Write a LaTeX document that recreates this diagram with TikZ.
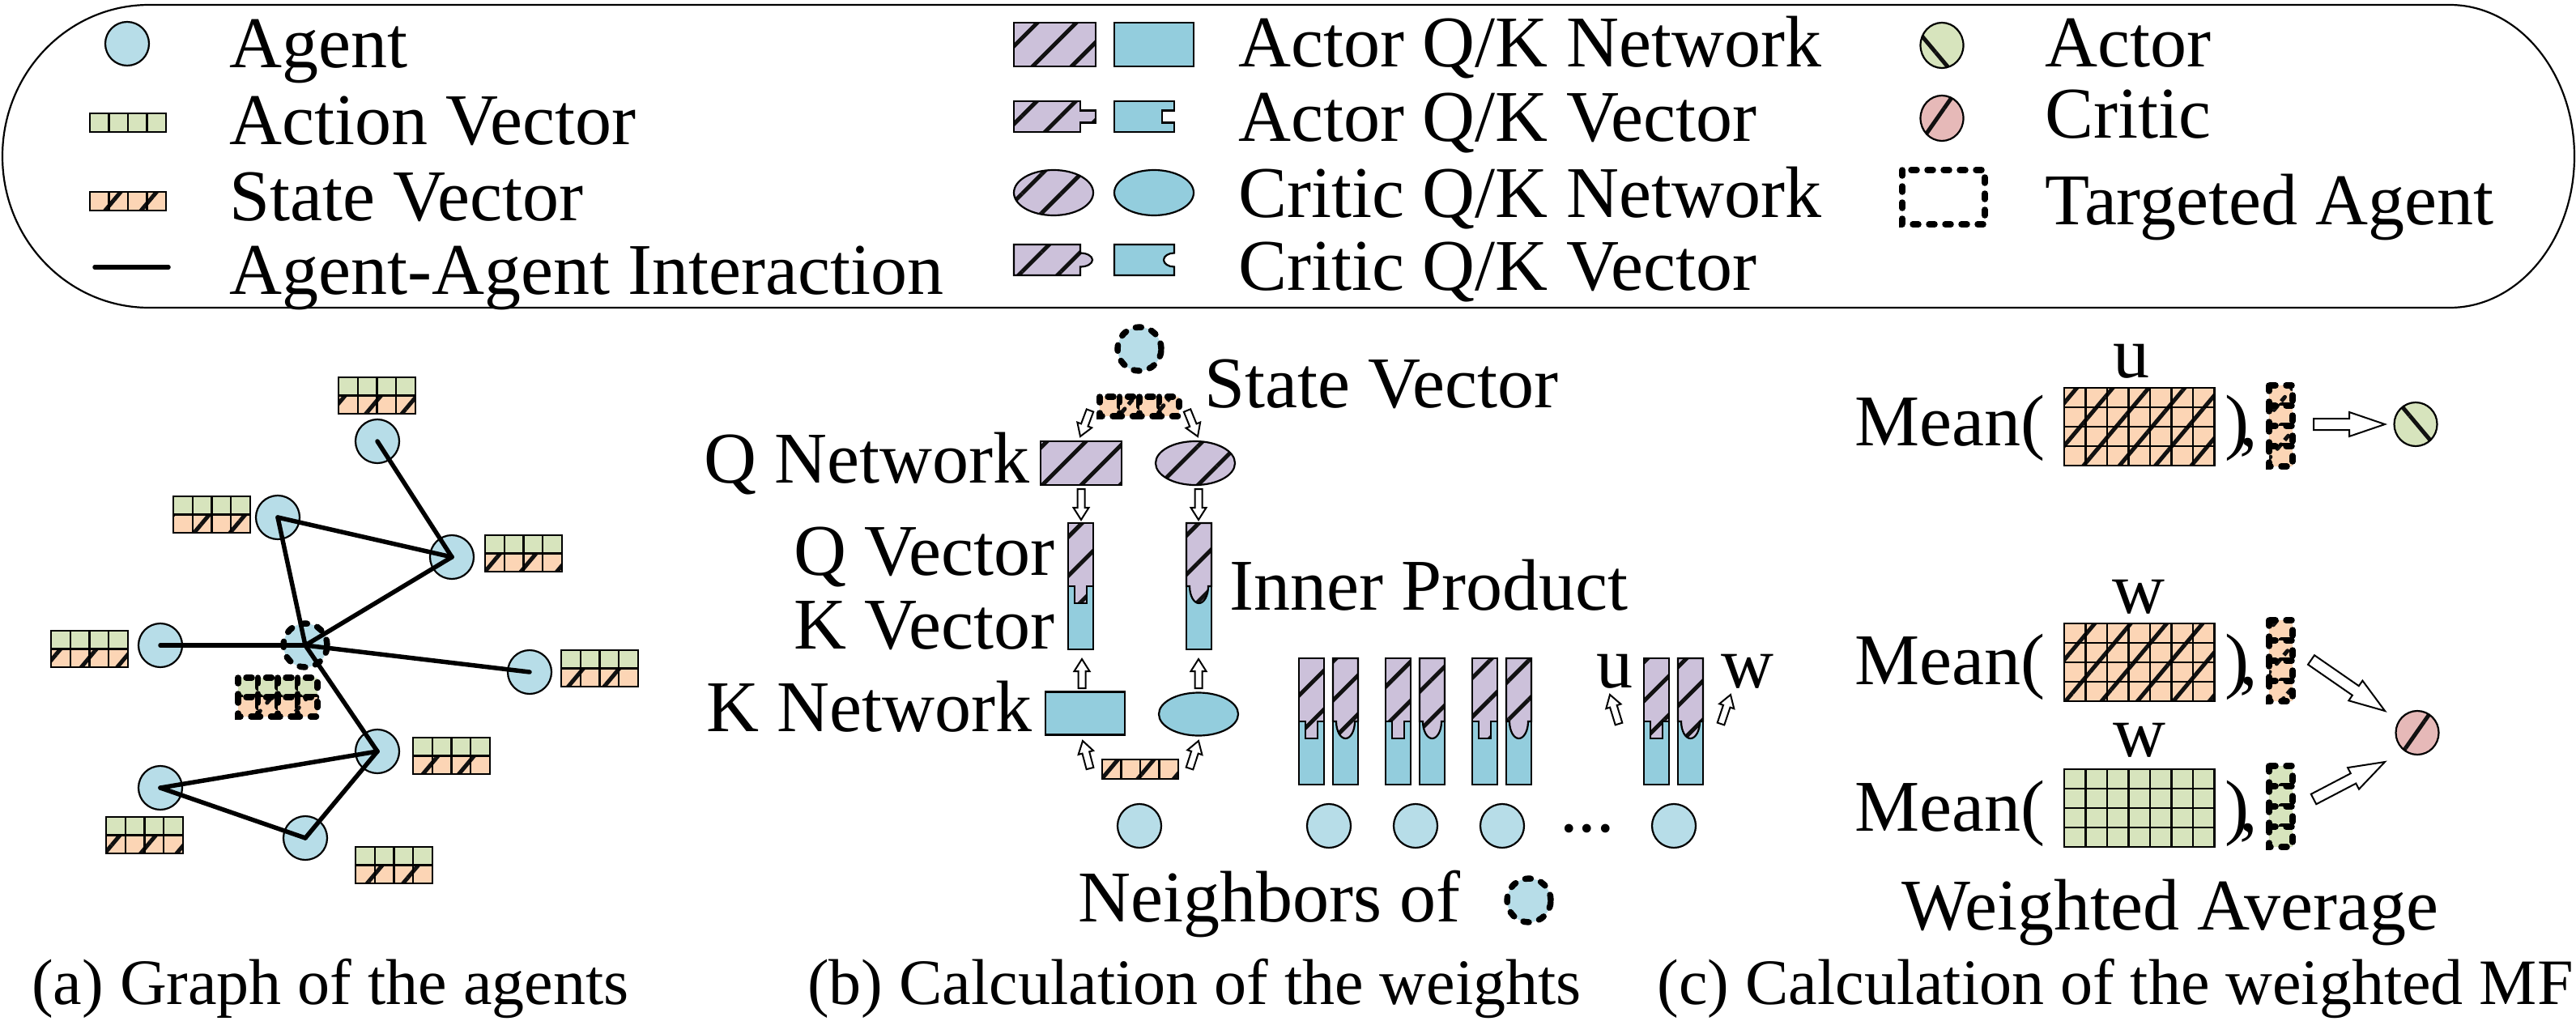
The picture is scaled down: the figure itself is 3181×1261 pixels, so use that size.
\documentclass[tikz,border=0pt]{standalone}
\usepackage{fontspec}
\setmainfont{Liberation Serif}
\usetikzlibrary{calc,patterns.meta,shapes.geometric}
\definecolor{agentc}{HTML}{B7DDE8}
\definecolor{netc}{HTML}{93CDDD}
\definecolor{lilac}{HTML}{CCC1DA}
\definecolor{acc}{HTML}{D7E4BD}
\definecolor{stc}{HTML}{FCD5B5}
\definecolor{crc}{HTML}{E6B9B8}
\definecolor{hatc}{HTML}{111111}
\newcommand{\mfont}{\fontsize{90}{108}\selectfont}
\newcommand{\cfont}{\fontsize{80}{96}\selectfont}
\tikzset{
  ol/.style={draw=black, line width=2.2pt},
  lilsh/.style={ol, preaction={fill=lilac}, pattern={Lines[angle=45,distance=34pt,line width=5pt]}, pattern color=hatc},
  netsh/.style={ol, fill=netc},
  agent/.style={circle, ol, fill=agentc, minimum size=54pt, inner sep=0pt},
  tdash/.style={line width=7.5pt, dash pattern=on 7pt off 13pt, line cap=round},
  stcell/.style={ol, preaction={fill=stc}, pattern={Lines[angle=50,distance=34pt,line width=5pt]}, pattern color=hatc},
  accell/.style={ol, fill=acc},
  stcelld/.style={stcell, tdash},
  accelld/.style={accell, tdash},
  link/.style={line width=5.5pt, line cap=round},
  harrowst/.style={draw=black, fill=white, line width=2pt, line join=miter},
  txt/.style={inner sep=0pt, font=\mfont},
  ctxt/.style={inner sep=0pt, font=\cfont},
}
% grid of cells: x, y, cols, rows, w, h, style
\newcommand{\cellgrid}[7]{%
  \foreach \r in {1,...,#4}{\foreach \c in {1,...,#3}{%
    \path[#7] ({#1+(\c-1)*#5},{#2+(\r-1)*#6}) rectangle ++(#5,#6);}}}
% action over state vector box (panel a)
\newcommand{\avbox}[2]{%
  \cellgrid{#1}{#2}{4}{1}{23.7}{22.5}{accell}%
  \cellgrid{#1}{#2+22.5}{4}{1}{23.7}{22.5}{stcell}}
% hollow arrow: from, to, shaft half width, head half width, head length
\newcommand{\harrow}[5]{%
  \coordinate (hH) at ($(#2)!#5!(#1)$);
  \draw[harrowst] ($(#1)!#3!90:(#2)$) -- ($(hH)!#3!90:(#2)$) -- ($(hH)!#4!90:(#2)$) -- (#2)
     -- ($(hH)!#4!-90:(#2)$) -- ($(hH)!#3!-90:(#2)$) -- ($(#1)!#3!-90:(#2)$) -- cycle;}
% actor vertical Q/K vector
\newcommand{\avec}[2]{%
  \draw[netsh] (#1,{#2+78}) rectangle ({#1+31},{#2+156});
  \draw[lilsh] (#1,#2) -- ({#1+31},#2) -- ({#1+31},{#2+78}) -- ({#1+23},{#2+78}) -- ({#1+23},{#2+99})
     -- ({#1+8},{#2+99}) -- ({#1+8},{#2+78}) -- (#1,{#2+78}) -- cycle;}
% critic vertical Q/K vector
\newcommand{\cvec}[2]{%
  \draw[netsh] (#1,{#2+78}) rectangle ({#1+31},{#2+156});
  \draw[lilsh] (#1,#2) -- ({#1+31},#2) -- ({#1+31},{#2+78}) -- ({#1+27},{#2+78})
     arc[start angle=0,end angle=180,x radius=11.5,y radius=21] -- (#1,{#2+78}) -- cycle;}

\begin{document}
\begin{tikzpicture}[x=1pt,y=-1pt]
\useasboundingbox (0,0) rectangle (3181,1261);

% ================= Legend =================
\draw[line width=2.2pt] (184,6) -- (3025,6)
   arc[start angle=-90,end angle=90,x radius=154,y radius=187]
   -- (184,380) arc[start angle=90,end angle=270,x radius=181,y radius=187] -- cycle;

% column 1
\node[agent] (lgagent) at (157,54) {};
\cellgrid{111}{140}{4}{1}{23.5}{23}{accell}
\cellgrid{111}{237}{4}{1}{23.5}{23}{stcell}
\draw[link] (117,330) -- (208,330);
\node[txt, anchor=base west] (lt1) at (283,83) {Agent};
\node[txt, anchor=base west] (lt2) at (283,178) {Action Vector};
\node[txt, anchor=base west] (lt3) at (283,272) {State Vector};
\node[txt, anchor=base west] (lt4) at (283,363) {Agent-Agent Interaction};

% column 2
\draw[lilsh] (1252,28) rectangle (1353,82);
\draw[netsh] (1376,28) rectangle (1474,82);
\draw[lilsh] (1252,125) -- (1334,125) -- (1334,136.5) -- (1353,136.5) -- (1353,151.5) -- (1334,151.5) -- (1334,163) -- (1252,163) -- cycle;
\draw[netsh] (1376,125) -- (1450,125) -- (1450,136.5) -- (1435,136.5) -- (1435,151.5) -- (1450,151.5) -- (1450,163) -- (1376,163) -- cycle;
\node[ellipse, lilsh, minimum width=98pt, minimum height=56pt, inner sep=0pt] (lgqc) at (1301,238) {};
\node[ellipse, netsh, minimum width=98pt, minimum height=56pt, inner sep=0pt] (lgkc) at (1425,238) {};
\draw[lilsh] (1252,302) -- (1334,302) -- (1334,312.5) arc[start angle=-90,end angle=90,x radius=15,y radius=8.5] -- (1334,340) -- (1252,340) -- cycle;
\draw[netsh] (1376,302) -- (1450,302) -- (1450,312.5) arc[start angle=-90,end angle=-270,x radius=13,y radius=8.5] -- (1450,340) -- (1376,340) -- cycle;
\node[txt, anchor=base west] (lt5) at (1529,82) {Actor Q/K Network};
\node[txt, anchor=base west] (lt6) at (1529,174) {Actor Q/K Vector};
\node[txt, anchor=base west] (lt7) at (1529,268) {Critic Q/K Network};
\node[txt, anchor=base west] (lt8) at (1529,358) {Critic Q/K Vector};

% column 3
\node[ellipse, ol, preaction={fill=acc}, pattern={Lines[angle=-50,distance=40pt,line width=5pt]}, pattern color=hatc, minimum width=53pt, minimum height=56pt, inner sep=0pt] (lgactor) at (2398,56) {};
\node[ellipse, ol, preaction={fill=crc}, pattern={Lines[angle=55,distance=40pt,line width=5pt]}, pattern color=hatc, minimum width=53pt, minimum height=56pt, inner sep=0pt] (lgcritic) at (2398,146) {};
\draw[tdash] (2349,210) rectangle (2451,277);
\node[txt, anchor=base west] (lt9) at (2525,82) {Actor};
\node[txt, anchor=base west] (lt10) at (2525,170) {Critic};
\node[txt, anchor=base west] (lt11) at (2525,277) {Targeted Agent};

% ================= Panel (a) =================
\node[agent] (a1) at (466,545) {};
\node[agent] (a2) at (343,639) {};
\node[agent] (a3) at (558,688) {};
\node[agent] (a4) at (198,797) {};
\node[agent, tdash] (a5) at (377,797) {};
\node[agent] (a6) at (654,830) {};
\node[agent] (a7) at (466,928) {};
\node[agent] (a8) at (198,973) {};
\node[agent] (a9) at (377,1035) {};
\draw[link] (a1.center) -- (a3.center);
\draw[link] (a2.center) -- (a3.center);
\draw[link] (a2.center) -- (a5.center);
\draw[link] (a3.center) -- (a5.center);
\draw[link] (a4.center) -- (a5.center);
\draw[link] (a5.center) -- (a6.center);
\draw[link] (a5.center) -- (a7.center);
\draw[link] (a7.center) -- (a8.center);
\draw[link] (a8.center) -- (a9.center);
\draw[link] (a9.center) -- (a7.center);
\avbox{418}{466}
\avbox{214}{613}
\avbox{599}{661}
\avbox{63}{779}
\avbox{693}{803}
\avbox{510}{911}
\avbox{131}{1009}
\avbox{439}{1046}
\cellgrid{294}{837}{4}{1}{24.5}{24}{accelld}
\cellgrid{294}{861}{4}{1}{24.5}{24}{stcelld}
\node[ctxt, anchor=base] (capa) at (408,1240) {(a) Graph of the agents};

% ================= Panel (b) =================
\node[agent, tdash] (tb) at (1407,431) {};
\cellgrid{1358}{490}{4}{1}{24.5}{24}{stcelld}
\node[txt, anchor=base west] (lsv) at (1487,503) {State Vector};
\node[lilsh, minimum width=100pt, minimum height=54pt, inner sep=0pt] (qnet) at (1335,572) {};
\node[ellipse, lilsh, minimum width=98pt, minimum height=54pt, inner sep=0pt] (qnetc) at (1476,572) {};
\coordinate (b1s) at (1346,507); \coordinate (b1e) at (1334,539);
\coordinate (b2s) at (1466,507); \coordinate (b2e) at (1479,539);
\harrow{b1s}{b1e}{4.5pt}{9.5pt}{15pt}
\harrow{b2s}{b2e}{4.5pt}{9.5pt}{15pt}
\coordinate (b3s) at (1335,604); \coordinate (b3e) at (1335,642);
\coordinate (b4s) at (1480,604); \coordinate (b4e) at (1480,642);
\harrow{b3s}{b3e}{4.5pt}{9.5pt}{15pt}
\harrow{b4s}{b4e}{4.5pt}{9.5pt}{15pt}
\avec{1319}{646}
\cvec{1465}{646}
\node[txt, anchor=base east] (lqn) at (1272,596) {Q Network};
\node[txt, anchor=base east] (lqv) at (1303,710) {Q Vector};
\node[txt, anchor=base east] (lkv) at (1303,801) {K Vector};
\node[txt, anchor=base east] (lkn) at (1275,903) {K Network};
\node[txt, anchor=base west] (lip) at (1518,753) {Inner Product};
\coordinate (b5s) at (1336,850); \coordinate (b5e) at (1336,814);
\coordinate (b6s) at (1480,850); \coordinate (b6e) at (1480,814);
\harrow{b5s}{b5e}{4.5pt}{9.5pt}{15pt}
\harrow{b6s}{b6e}{4.5pt}{9.5pt}{15pt}
\node[netsh, minimum width=98pt, minimum height=53pt, inner sep=0pt] (knet) at (1340,881) {};
\node[ellipse, netsh, minimum width=98pt, minimum height=53pt, inner sep=0pt] (knetc) at (1480,882) {};
\coordinate (b7s) at (1346,949); \coordinate (b7e) at (1337,915);
\coordinate (b8s) at (1469,949); \coordinate (b8e) at (1480,915);
\harrow{b7s}{b7e}{4.5pt}{9.5pt}{15pt}
\harrow{b8s}{b8e}{4.5pt}{9.5pt}{15pt}
\cellgrid{1361}{938}{4}{1}{23.5}{24}{stcell}
\node[agent] (n0) at (1407,1020) {};
\node[agent] (n1) at (1641,1020) {};
\node[agent] (n2) at (1748,1020) {};
\node[agent] (n3) at (1855,1020) {};
\node[agent] (n4) at (2067,1020) {};
\node[txt, anchor=base] (dots) at (1960,1027) {...};
\avec{1604}{813} \cvec{1646}{813}
\avec{1711}{813} \cvec{1753}{813}
\avec{1818}{813} \cvec{1860}{813}
\avec{2030}{813} \cvec{2072}{813}
\node[txt, anchor=base west] (lu) at (1971,849) {u};
\node[txt, anchor=base west] (lw) at (2125,849) {w};
\coordinate (b9s) at (1999,894); \coordinate (b9e) at (1988,858);
\coordinate (b10s) at (2125,894); \coordinate (b10e) at (2137,858);
\harrow{b9s}{b9e}{4.5pt}{9.5pt}{15pt}
\harrow{b10s}{b10e}{4.5pt}{9.5pt}{15pt}
\node[txt, anchor=base west] (lnb) at (1331,1138) {Neighbors of};
\node[agent, tdash] (tb2) at (1888,1112) {};
\node[ctxt, anchor=base] (capb) at (1475,1240) {(b) Calculation of the weights};

% ================= Panel (c) =================
% row 1
\node[txt, anchor=base west] (m1) at (2290,550) {Mean(};
\node[txt, anchor=base] (u1) at (2632,466) {u};
\cellgrid{2549}{479}{7}{4}{26.5}{24}{stcell}
\node[txt, anchor=base west] (p1) at (2747,550) {)\kern-12pt,};
\cellgrid{2802}{476}{1}{4}{29}{25}{stcelld}
\node[ellipse, ol, preaction={fill=acc}, pattern={Lines[angle=-50,distance=40pt,line width=5pt]}, pattern color=hatc, minimum width=53pt, minimum height=54pt, inner sep=0pt] (actor) at (2983,524) {};
\coordinate (c1s) at (2857,524); \coordinate (c1e) at (2945,524);
\harrow{c1s}{c1e}{7pt}{15pt}{44pt}
% row 2
\node[txt, anchor=base] (w2) at (2641,757) {w};
\node[txt, anchor=base west] (m2) at (2290,845) {Mean(};
\cellgrid{2549}{770}{7}{4}{26.5}{24}{stcell}
\node[txt, anchor=base west] (p2) at (2747,845) {)\kern-12pt,};
\cellgrid{2802}{766}{1}{4}{29}{25}{stcelld}
% row 3
\node[txt, anchor=base] (w3) at (2642,934) {w};
\node[txt, anchor=base west] (m3) at (2290,1026) {Mean(};
\cellgrid{2549}{950}{7}{4}{26.5}{24}{accell}
\node[txt, anchor=base west] (p3) at (2747,1026) {)\kern-12pt,};
\cellgrid{2802}{946}{1}{4}{29}{25}{accelld}
\node[ellipse, ol, preaction={fill=crc}, pattern={Lines[angle=55,distance=40pt,line width=5pt]}, pattern color=hatc, minimum width=53pt, minimum height=54pt, inner sep=0pt] (critic) at (2985,905) {};
\coordinate (c2s) at (2854,815); \coordinate (c2e) at (2945,878);
\coordinate (c3s) at (2857,987); \coordinate (c3e) at (2945,941);
\harrow{c2s}{c2e}{7pt}{15pt}{44pt}
\harrow{c3s}{c3e}{7pt}{15pt}{44pt}
\node[txt, anchor=base] (lwa) at (2680,1148) {Weighted Average};
\node[ctxt, anchor=base] (capc) at (2612,1240) {(c) Calculation of the weighted MF};
\end{tikzpicture}
\end{document}
